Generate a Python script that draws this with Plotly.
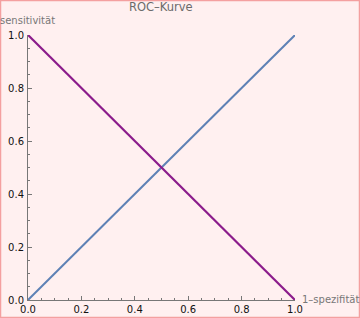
import plotly.graph_objects as go

# data
fpr_diag = [0.0, 1.0]
tpr_diag = [0.0, 1.0]
fpr_roc = [0.0, 1.0]
tpr_roc = [1.0, 0.0]
tick_vals = [0.0, 0.2, 0.4, 0.6, 0.8, 1.0]
tick_text = ["0.0", "0.2", "0.4", "0.6", "0.8", "1.0"]
title_text = "ROC–Kurve"
xlabel = "1–spezifität"
ylabel = "sensitivität"

W, H = 360, 318
L, R, T, B = 28, 65, 35, 18
pw, ph = W - L - R, H - T - B

def px_x(p):
    return (p - L) / pw

def px_y(p):
    return (H - B - p) / ph

fig = go.Figure()
fig.add_trace(go.Scatter(x=fpr_diag, y=tpr_diag, mode="lines",
                         line=dict(color="#5E81B5", width=2), showlegend=False))
fig.add_trace(go.Scatter(x=fpr_roc, y=tpr_roc, mode="lines",
                         line=dict(color="#8B1C8B", width=2.2), showlegend=False))

axis_common = dict(
    range=[0, 1], showgrid=False, zeroline=False, showline=True,
    linecolor="#777777", linewidth=1, ticks="inside", ticklen=4, tickwidth=1,
    tickcolor="#777777", tickvals=tick_vals, ticktext=tick_text,
    tickfont=dict(family="DejaVu Sans", size=10, color="#111111"),
    minor=dict(ticks="inside", ticklen=2, tickcolor="#777777", dtick=0.05, showgrid=False),
    fixedrange=True, automargin=False,
)
fig.update_xaxes(**axis_common, ticklabelstandoff=0)
fig.update_yaxes(**axis_common, ticklabelstandoff=1)

fig.update_layout(
    template="none",
    width=W, height=H,
    margin=dict(l=L, r=R, t=T, b=B, autoexpand=False),
    paper_bgcolor="#FFF0F0", plot_bgcolor="#FFF0F0",
    shapes=[dict(type="rect", xref="paper", yref="paper",
                 x0=px_x(0.5), x1=px_x(W - 0.5), y0=px_y(H - 0.5), y1=px_y(0.5),
                 line=dict(color="#F4A0A0", width=1.5), layer="above")],
    annotations=[
        dict(text=title_text, xref="paper", yref="paper", x=px_x(161), y=px_y(7),
             xanchor="center", yanchor="middle", showarrow=False,
             font=dict(family="DejaVu Sans", size=11.5, color="#6B6B6B")),
        dict(text=ylabel, xref="paper", yref="paper", x=px_x(-2), y=px_y(20),
             xanchor="left", yanchor="middle", showarrow=False,
             font=dict(family="DejaVu Sans", size=10, color="#777777")),
        dict(text=xlabel, xref="paper", yref="paper", x=px_x(300), y=px_y(299),
             xanchor="left", yanchor="middle", showarrow=False,
             font=dict(family="DejaVu Sans", size=10, color="#777777")),
    ],
)

fig.write_html("out.html", config={"displayModeBar": False})
